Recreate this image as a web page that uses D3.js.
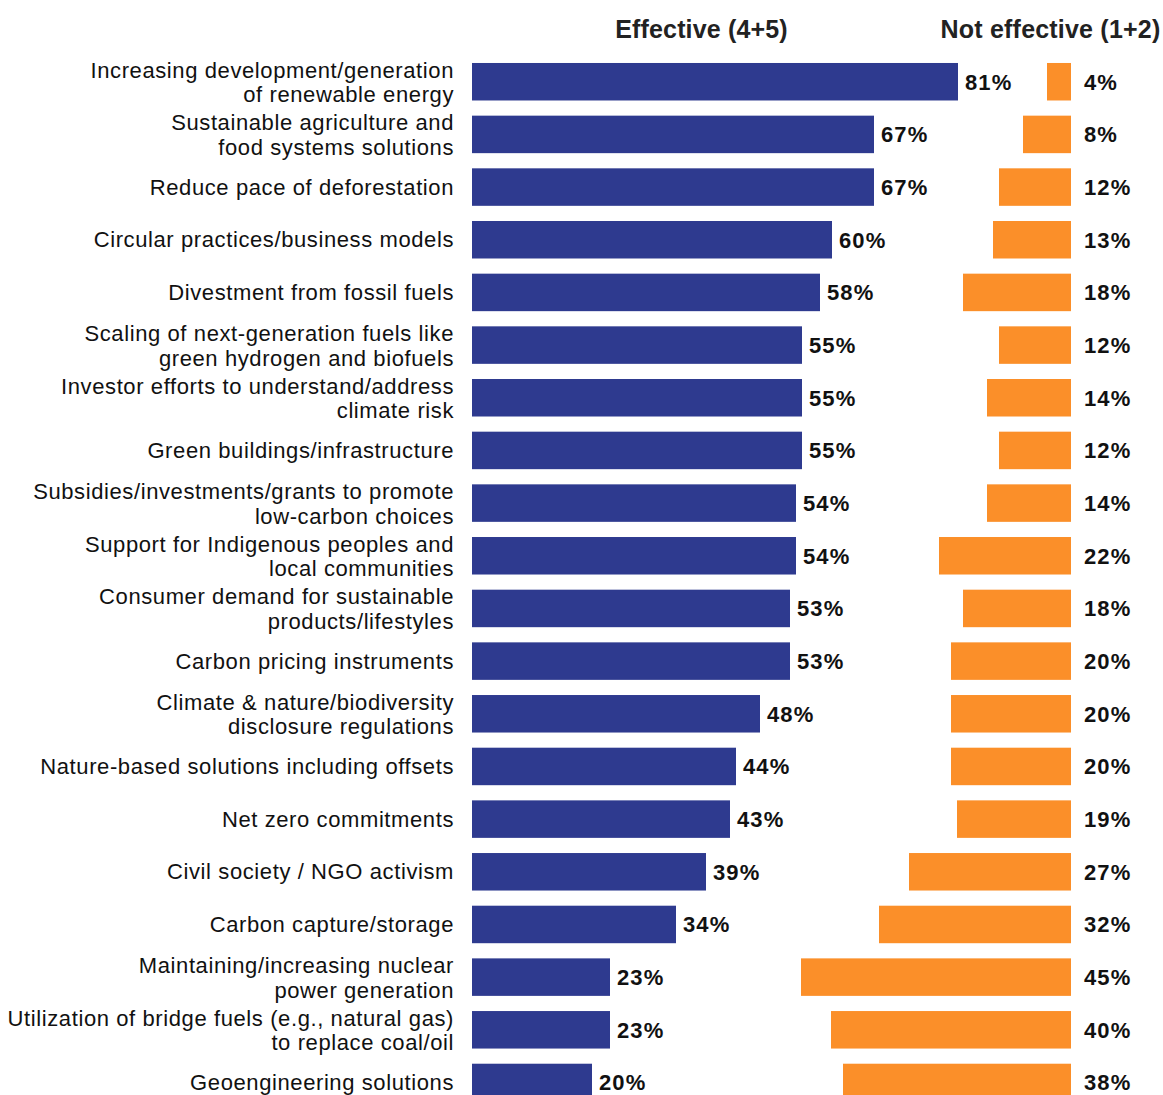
<!DOCTYPE html>
<html>
<head>
<meta charset="utf-8">
<script src="https://cdn.jsdelivr.net/npm/d3@7/dist/d3.min.js"></script>
<style>
  html, body { margin: 0; padding: 0; background: #fff; }
  svg { display: block; font-family: "Liberation Sans", Arial, Helvetica, sans-serif; }
</style>
</head>
<body>
<svg id="chart" width="1163" height="1095"></svg>
<script>
// Approaches to climate action, rated effective vs. not effective
const categories = [
  ["Increasing development/generation", "of renewable energy"],
  ["Sustainable agriculture and", "food systems solutions"],
  ["Reduce pace of deforestation"],
  ["Circular practices/business models"],
  ["Divestment from fossil fuels"],
  ["Scaling of next-generation fuels like", "green hydrogen and biofuels"],
  ["Investor efforts to understand/address", "climate risk"],
  ["Green buildings/infrastructure"],
  ["Subsidies/investments/grants to promote", "low-carbon choices"],
  ["Support for Indigenous peoples and", "local communities"],
  ["Consumer demand for sustainable", "products/lifestyles"],
  ["Carbon pricing instruments"],
  ["Climate & nature/biodiversity", "disclosure regulations"],
  ["Nature-based solutions including offsets"],
  ["Net zero commitments"],
  ["Civil society / NGO activism"],
  ["Carbon capture/storage"],
  ["Maintaining/increasing nuclear", "power generation"],
  ["Utilization of bridge fuels (e.g., natural gas)", "to replace coal/oil"],
  ["Geoengineering solutions"]
];
const effective    = [81, 67, 67, 60, 58, 55, 55, 55, 54, 54, 53, 53, 48, 44, 43, 39, 34, 23, 23, 20];
const notEffective = [ 4,  8, 12, 13, 18, 12, 14, 12, 14, 22, 18, 20, 20, 20, 19, 27, 32, 45, 40, 38];
const headers = ["Effective (4+5)", "Not effective (1+2)"];

const svg = d3.select("#chart");
const BLUE = "#2e3a8f", ORANGE = "#fb8f29";

const effLeft = 472;      // left edge of the effective bars
const notRight = 1071;    // right edge of the not-effective bars
const pxPerPct = 6;

const xEff = d3.scaleLinear().domain([0, 100]).range([0, 100 * pxPerPct]);
const xNot = d3.scaleLinear().domain([0, 100]).range([0, 100 * pxPerPct]);

const idx = d3.range(categories.length);
const y = d3.scaleBand()
  .domain(idx)
  .range([63 - 7.6, 63 - 7.6 + 52.67 * categories.length])
  .paddingInner(0.288)
  .paddingOuter(0.144);

// Column headers
svg.append("text")
  .attr("x", 701.5).attr("y", 38)
  .attr("text-anchor", "middle")
  .attr("font-size", 25).attr("font-weight", "bold").attr("fill", "#222")
  .attr("letter-spacing", 0.15)
  .text(headers[0]);
svg.append("text")
  .attr("x", 1050.5).attr("y", 38)
  .attr("text-anchor", "middle")
  .attr("font-size", 25).attr("font-weight", "bold").attr("fill", "#222")
  .attr("letter-spacing", 0.2)
  .text(headers[1]);

const rows = svg.selectAll("g.row").data(idx).join("g").attr("class", "row");

// Category labels, right-aligned against the bars
rows.each(function (i) {
  const g = d3.select(this);
  const cy = y(i) + y.bandwidth() / 2;
  const lines = categories[i];
  const t = g.append("text")
    .attr("text-anchor", "end")
    .attr("font-size", 22)
    .attr("letter-spacing", 0.6)
    .attr("fill", "#111");
  if (lines.length === 1) {
    t.append("tspan").attr("x", 454).attr("y", cy + 7.5).text(lines[0]);
  } else {
    t.append("tspan").attr("x", 454).attr("y", cy - 4).text(lines[0]);
    t.append("tspan").attr("x", 454).attr("y", cy + 20.5).text(lines[1]);
  }
});

// Effective bars
rows.append("rect")
  .attr("x", effLeft)
  .attr("y", i => y(i))
  .attr("width", i => xEff(effective[i]))
  .attr("height", y.bandwidth())
  .attr("fill", BLUE);

rows.append("text")
  .attr("x", i => effLeft + xEff(effective[i]) + 7)
  .attr("y", i => y(i) + y.bandwidth() / 2 + 8)
  .attr("font-size", 22).attr("font-weight", "bold").attr("fill", "#111")
  .attr("letter-spacing", 1.1)
  .text(i => effective[i] + "%");

// Not-effective bars, growing leftwards from a common right edge
rows.append("rect")
  .attr("x", i => notRight - xNot(notEffective[i]))
  .attr("y", i => y(i))
  .attr("width", i => xNot(notEffective[i]))
  .attr("height", y.bandwidth())
  .attr("fill", ORANGE);

rows.append("text")
  .attr("x", 1084)
  .attr("y", i => y(i) + y.bandwidth() / 2 + 8)
  .attr("font-size", 22).attr("font-weight", "bold").attr("fill", "#111")
  .attr("letter-spacing", 1.1)
  .text(i => notEffective[i] + "%");
</script>
</body>
</html>
